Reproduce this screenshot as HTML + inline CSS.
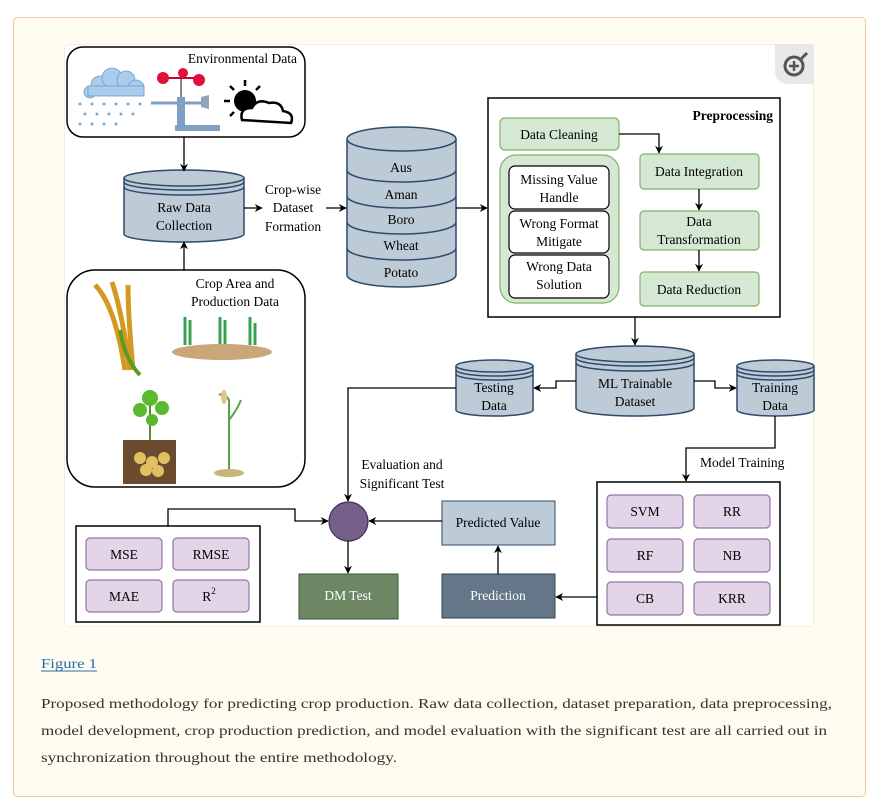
<!DOCTYPE html>
<html><head><meta charset="utf-8"><style>
html,body{margin:0;padding:0;background:#fff;}
svg{display:block;}
text{font-family:"Liberation Serif",serif;}
</style></head><body>
<svg width="882" height="809" viewBox="0 0 882 809" xmlns="http://www.w3.org/2000/svg">
<defs>
<marker id="a" viewBox="0 0 10 10" refX="9" refY="5" markerWidth="8" markerHeight="8" orient="auto" markerUnits="userSpaceOnUse"><path d="M0,0 L10,5 L0,10 L3,5z" fill="#000"/></marker>
</defs>
<rect x="13.5" y="17.5" width="852" height="779" rx="4" fill="#fefcef" stroke="#ecc9a8"/>
<rect x="64.5" y="44.5" width="749" height="582" rx="4" fill="#fff" stroke="#f3eee0"/>
<!-- zoom icon -->
<path d="M775,44 H814 V84 H790 Q775,84 775,70Z" fill="#e8e8e8"/>
<circle cx="794" cy="66" r="9" fill="none" stroke="#555" stroke-width="3"/>
<path d="M789,66h10M794,61v10" stroke="#555" stroke-width="2.5"/>
<path d="M801,59 L807,53" stroke="#555" stroke-width="3"/>

<g stroke="#000" stroke-width="1.5" fill="none">
<!-- env box -->
<rect x="67" y="47" width="238" height="90" rx="16" fill="#fff"/>
<rect x="67" y="270" width="238" height="217" rx="28" fill="#fff"/>
<!-- preprocessing box -->
<rect x="488" y="98" width="292" height="219" fill="#fff"/>
<rect x="597" y="482" width="183" height="143" fill="#fff"/>
<rect x="76" y="526" width="184" height="96" fill="#fff"/>
</g>
<text x="297" y="63" font-size="13.5" text-anchor="end">Environmental Data</text>
<text x="235" y="288" font-size="13.5" text-anchor="middle">Crop Area and</text>
<text x="235" y="306" font-size="13.5" text-anchor="middle">Production Data</text>
<text x="773" y="120" font-size="13.5" font-weight="bold" text-anchor="end">Preprocessing</text>

<!-- env icons -->
<g fill="#a9cdea" stroke="#6a9ccc" stroke-width="0.8">
<circle cx="100" cy="85" r="9"/><circle cx="112" cy="78" r="10"/><circle cx="126" cy="80" r="9"/><circle cx="136" cy="88" r="8"/><circle cx="90" cy="92" r="6"/><rect x="88" y="86" width="56" height="10"/>
</g>
<g fill="#7aaad8">
<circle cx="80" cy="104" r="1.5"/><circle cx="92" cy="104" r="1.5"/><circle cx="104" cy="104" r="1.5"/><circle cx="116" cy="104" r="1.5"/><circle cx="128" cy="104" r="1.5"/><circle cx="140" cy="104" r="1.5"/>
<circle cx="85" cy="114" r="1.5"/><circle cx="97" cy="114" r="1.5"/><circle cx="109" cy="114" r="1.5"/><circle cx="121" cy="114" r="1.5"/><circle cx="133" cy="114" r="1.5"/>
<circle cx="80" cy="124" r="1.5"/><circle cx="92" cy="124" r="1.5"/><circle cx="104" cy="124" r="1.5"/><circle cx="116" cy="124" r="1.5"/>
</g>
<rect x="177" y="97" width="8" height="30" fill="#7f9fc4"/>
<rect x="175" y="125" width="45" height="6" fill="#7f9fc4"/>
<path d="M151,103h50" stroke="#7f9fc4" stroke-width="3"/>
<path d="M201,97 l8,-2 v14 l-8,-2z" fill="#8fa5bb"/>
<path d="M181,75v22" stroke="#888" stroke-width="2"/>
<path d="M164,78h34" stroke="#c03" stroke-width="2"/>
<circle cx="163" cy="78" r="6" fill="#e0103a"/><circle cx="183" cy="73" r="5" fill="#e0103a"/><circle cx="199" cy="80" r="6" fill="#e0103a"/>
<circle cx="245" cy="101" r="11" fill="#000"/>
<g stroke="#000" stroke-width="2.5"><path d="M245,80v6M230,86l4,4M260,86l-4,4M224,101h6M230,116l4,-4"/></g>
<path d="M242,120 q-3,-12 10,-12 q5,-10 17,-5 q12,-2 14,8 q12,2 8,12 z" fill="#fff" stroke="#000" stroke-width="2.5"/>

<!-- crop icons -->
<g stroke="#d49a20" stroke-width="5" fill="none"><path d="M95,285 q20,20 30,85"/><path d="M112,282 q10,30 18,88"/><path d="M128,285 q0,30 5,85"/></g>
<path d="M120,330 q5,30 20,45" stroke="#5a9a2a" stroke-width="4" fill="none"/>
<g stroke="#3aa050" stroke-width="3"><path d="M185,345v-28M190,345v-25M220,345v-28M225,345v-25M250,345v-28M255,345v-22"/></g>
<ellipse cx="222" cy="352" rx="50" ry="8" fill="#c9a77b"/>
<rect x="123" y="440" width="53" height="44" fill="#6b4a2d"/>
<g fill="#e0c060"><circle cx="140" cy="458" r="6"/><circle cx="152" cy="462" r="6"/><circle cx="164" cy="458" r="6"/><circle cx="146" cy="470" r="6"/><circle cx="158" cy="471" r="6"/></g>
<path d="M150,440v-40" stroke="#5a8a2a" stroke-width="2"/>
<g fill="#5cb82e"><circle cx="150" cy="398" r="8"/><circle cx="140" cy="410" r="7"/><circle cx="162" cy="408" r="7"/><circle cx="152" cy="420" r="6"/></g>
<path d="M229,470 v-70 q-5,-8 -10,-5 M229,420 q8,-10 12,-20" stroke="#56a24a" stroke-width="2" fill="none"/>
<ellipse cx="229" cy="473" rx="15" ry="4" fill="#c9b47a"/>
<ellipse cx="224" cy="397" rx="3" ry="7" fill="#e1c58a"/>

<!-- Raw data cylinder -->
<g stroke="#2f4a6a" stroke-width="1.5" fill="#bccbd6">
<path d="M124,178 V234 A60,8 0 0 0 244,234 V178"/>
<ellipse cx="184" cy="178" rx="60" ry="8"/>
<path d="M124,182 A60,8 0 0 0 244,182 M124,187 A60,8 0 0 0 244,187" fill="none"/>
</g>
<text x="184" y="212" font-size="13.5" text-anchor="middle">Raw Data</text>
<text x="184" y="230" font-size="13.5" text-anchor="middle">Collection</text>

<!-- crop cylinder -->
<g stroke="#2f4a6a" stroke-width="1.5" fill="#bccbd6">
<path d="M347,139 V275 A54.5,12 0 0 0 456,275 V139"/>
<ellipse cx="401.5" cy="139" rx="54.5" ry="12"/>
<path d="M347,170 A54.5,12 0 0 0 456,170 M347,196 A54.5,12 0 0 0 456,196 M347,222 A54.5,12 0 0 0 456,222 M347,248 A54.5,12 0 0 0 456,248" fill="none"/>
</g>
<g font-size="13.5" text-anchor="middle">
<text x="401" y="172">Aus</text><text x="401" y="199">Aman</text><text x="401" y="224">Boro</text><text x="401" y="250">Wheat</text><text x="401" y="277">Potato</text>
</g>

<!-- crop-wise label -->
<text x="293" y="194" font-size="13.5" text-anchor="middle">Crop-wise</text>
<text x="293" y="212" font-size="13.5" text-anchor="middle">Dataset</text>
<text x="293" y="231" font-size="13.5" text-anchor="middle">Formation</text>

<!-- preprocessing content -->
<g stroke="#82b366" stroke-width="1.2" fill="#d5e8d4">
<rect x="500" y="118" width="119" height="32" rx="5"/>
<rect x="500" y="155" width="119" height="148" rx="16"/>
<rect x="640" y="154" width="119" height="35" rx="4"/>
<rect x="640" y="211" width="119" height="39" rx="4"/>
<rect x="640" y="272" width="119" height="34" rx="4"/>
</g>
<g stroke="#000" stroke-width="1.2" fill="#fff">
<rect x="509" y="166" width="100" height="43" rx="6"/>
<rect x="509" y="211" width="100" height="42" rx="6"/>
<rect x="509" y="255" width="100" height="43" rx="6"/>
</g>
<g font-size="13.5" text-anchor="middle">
<text x="559" y="139">Data Cleaning</text>
<text x="559" y="184">Missing Value</text><text x="559" y="202">Handle</text>
<text x="559" y="228">Wrong Format</text><text x="559" y="246">Mitigate</text>
<text x="559" y="271">Wrong Data</text><text x="559" y="289">Solution</text>
<text x="699" y="176">Data Integration</text>
<text x="699" y="226">Data</text><text x="699" y="244">Transformation</text>
<text x="699" y="294">Data Reduction</text>
</g>

<!-- ML cylinders -->
<g stroke="#2f4a6a" stroke-width="1.5" fill="#bccbd6">
<path d="M576,354 V408 A59,8 0 0 0 694,408 V354"/>
<ellipse cx="635" cy="354" rx="59" ry="8"/>
<path d="M576,358 A59,8 0 0 0 694,358 M576,363 A59,8 0 0 0 694,363" fill="none"/>
<path d="M456,366 V410 A38.5,6 0 0 0 533,410 V366"/>
<ellipse cx="494.5" cy="366" rx="38.5" ry="6"/>
<path d="M456,370 A38.5,6 0 0 0 533,370 M456,374 A38.5,6 0 0 0 533,374" fill="none"/>
<path d="M737,366 V410 A38.5,6 0 0 0 814,410 V366"/>
<ellipse cx="775.5" cy="366" rx="38.5" ry="6"/>
<path d="M737,370 A38.5,6 0 0 0 814,370 M737,374 A38.5,6 0 0 0 814,374" fill="none"/>
</g>
<g font-size="13.5" text-anchor="middle">
<text x="635" y="388">ML Trainable</text><text x="635" y="406">Dataset</text>
<text x="494" y="392">Testing</text><text x="494" y="410">Data</text>
<text x="775" y="392">Training</text><text x="775" y="410">Data</text>
<text x="402" y="469">Evaluation and</text><text x="402" y="488">Significant Test</text>
<text x="700" y="467" text-anchor="start" font-size="13.5">Model Training</text>
</g>

<!-- bottom nodes -->
<ellipse cx="348.5" cy="521.5" rx="19.5" ry="19.5" fill="#76608a" stroke="#432d57" stroke-width="1.2"/>
<rect x="299" y="574" width="99" height="45" fill="#6d8764" stroke="#3a5431"/>
<text x="348" y="600" font-size="13.5" text-anchor="middle" fill="#fff">DM Test</text>
<rect x="442" y="574" width="113" height="44" fill="#647687" stroke="#314354"/>
<text x="498" y="600" font-size="13.5" text-anchor="middle" fill="#fff">Prediction</text>
<rect x="442" y="501" width="113" height="44" fill="#bccbd6" stroke="#2f4a6a"/>
<text x="498" y="527" font-size="13.5" text-anchor="middle">Predicted Value</text>

<g stroke="#9673a6" stroke-width="1.2" fill="#e1d5e7">
<rect x="607" y="495" width="76" height="33" rx="4"/><rect x="694" y="495" width="76" height="33" rx="4"/>
<rect x="607" y="539" width="76" height="33" rx="4"/><rect x="694" y="539" width="76" height="33" rx="4"/>
<rect x="607" y="582" width="76" height="33" rx="4"/><rect x="694" y="582" width="76" height="33" rx="4"/>
<rect x="86" y="538" width="76" height="32" rx="4"/><rect x="173" y="538" width="76" height="32" rx="4"/>
<rect x="86" y="580" width="76" height="32" rx="4"/><rect x="173" y="580" width="76" height="32" rx="4"/>
</g>
<g font-size="13.5" text-anchor="middle">
<text x="645" y="516">SVM</text><text x="732" y="516">RR</text>
<text x="645" y="560">RF</text><text x="732" y="560">NB</text>
<text x="645" y="603">CB</text><text x="732" y="603">KRR</text>
<text x="124" y="559">MSE</text><text x="211" y="559">RMSE</text>
<text x="124" y="601">MAE</text><text x="209" y="601">R<tspan font-size="9" dy="-7">2</tspan></text>
</g>

<!-- connectors -->
<g stroke="#000" stroke-width="1.3" fill="none" marker-end="url(#a)">
<path d="M184,137 V171"/>
<path d="M184,270 V242"/>
<path d="M244,208 H262"/>
<path d="M326,208 H346"/>
<path d="M456,208 H487"/>
<path d="M619,134 H659 V153"/>
<path d="M699,189 V210"/>
<path d="M699,250 V271"/>
<path d="M635,317 V345"/>
<path d="M576,381 H556 V388 H534"/>
<path d="M694,381 H715 V388 H736"/>
<path d="M775,416 V448 H686 V481"/>
<path d="M456,388 H348 V501"/>
<path d="M348,541 V573"/>
<path d="M442,521 H369"/>
<path d="M498,574 V546"/>
<path d="M597,597 H556"/>
<path d="M168,526 V509 H295 V521 H328"/>
</g>

<!-- caption -->
<text x="41" y="668" font-size="14" fill="#2a6bb0" textLength="56" lengthAdjust="spacingAndGlyphs">Figure 1</text>
<path d="M41,671 H97" stroke="#2a6bb0" stroke-width="1"/>
<g font-size="14" fill="#333">
<text x="41" y="708" textLength="791" lengthAdjust="spacingAndGlyphs">Proposed methodology for predicting crop production. Raw data collection, dataset preparation, data preprocessing,</text>
<text x="41" y="735" textLength="786" lengthAdjust="spacingAndGlyphs">model development, crop production prediction, and model evaluation with the significant test are all carried out in</text>
<text x="41" y="762" textLength="356" lengthAdjust="spacingAndGlyphs">synchronization throughout the entire methodology.</text>
</g>
</svg>
</body></html>
